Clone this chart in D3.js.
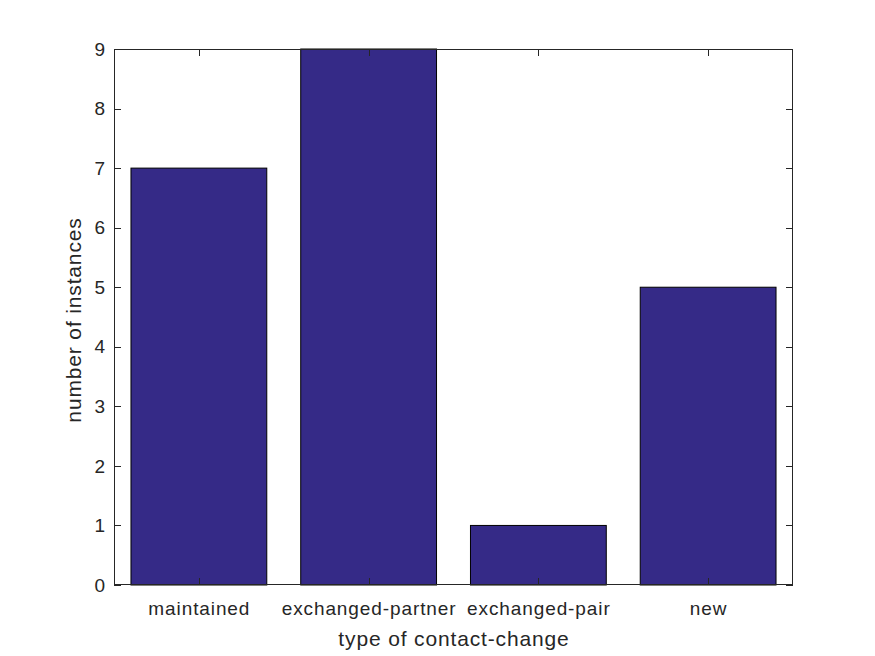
<!DOCTYPE html>
<html><head><meta charset="utf-8">
<script src="https://cdn.jsdelivr.net/npm/d3@7"></script>
<style>body{margin:0;background:#fff}text{font-family:"Liberation Sans",Arial,sans-serif;fill:#262626}</style>
</head><body><svg id="c" width="875" height="656"></svg>
<script>
const categories = ["maintained","exchanged-partner","exchanged-pair","new"];
const values = [7,9,1,5];
const yTicks = [0,1,2,3,4,5,6,7,8,9];
const xLabel = "type of contact-change";
const yLabel = "number of instances";

const svg = d3.select("#c");
const L=114, R=793, T=49, B=585;
const x = d3.scaleLinear().domain([0.5,4.5]).range([L,R]);
const y = d3.scaleLinear().domain([0,9]).range([B,T]);
const bw = (x(1)-x(0))*0.8;
const col = "#352a87";

svg.append("rect").attr("x",L).attr("y",T).attr("width",R-L).attr("height",B-T).attr("fill","#fff");
svg.selectAll(".bar").data(values).enter().append("rect")
  .attr("x",(d,i)=>x(i+1)-bw/2).attr("y",d=>y(d))
  .attr("width",bw).attr("height",d=>y(0)-y(d))
  .attr("fill",col).attr("stroke","#000").attr("stroke-width",1);

const g = svg.append("g").attr("fill","none").attr("stroke","#262626").attr("stroke-width",1);
g.append("rect").attr("x",L+0.5).attr("y",T+0.5).attr("width",R-L-1).attr("height",B-T-1);
const tl = 7;
yTicks.forEach(t=>{
  const yy = Math.round(y(t))+0.5;
  g.append("line").attr("x1",L).attr("x2",L+tl).attr("y1",yy).attr("y2",yy);
  g.append("line").attr("x1",R-tl).attr("x2",R).attr("y1",yy).attr("y2",yy);
});
categories.forEach((c,i)=>{
  const xx = Math.round(x(i+1))+0.5;
  g.append("line").attr("x1",xx).attr("x2",xx).attr("y1",B).attr("y2",B-tl);
  g.append("line").attr("x1",xx).attr("x2",xx).attr("y1",T).attr("y2",T+tl);
});
const ls = 0.9;
svg.selectAll(".yt").data(yTicks).enter().append("text")
  .attr("x",L-9).attr("y",d=>y(d)).attr("dy","0.35em").attr("text-anchor","end")
  .attr("font-size",19).text(d=>d);
svg.selectAll(".xt").data(categories).enter().append("text")
  .attr("x",(d,i)=>x(i+1)+ls/2).attr("y",B+30).attr("text-anchor","middle")
  .attr("font-size",19).attr("letter-spacing",ls).text(d=>d);
svg.append("text").attr("x",(L+R)/2+ls/2).attr("y",B+61).attr("text-anchor","middle").attr("font-size",21).attr("letter-spacing",0.85).text(xLabel);
svg.append("text").attr("transform",`translate(${L-33},${(T+B)/2+3}) rotate(-90)`).attr("text-anchor","middle").attr("font-size",21).attr("letter-spacing",0.85).text(yLabel);
</script></body></html>
